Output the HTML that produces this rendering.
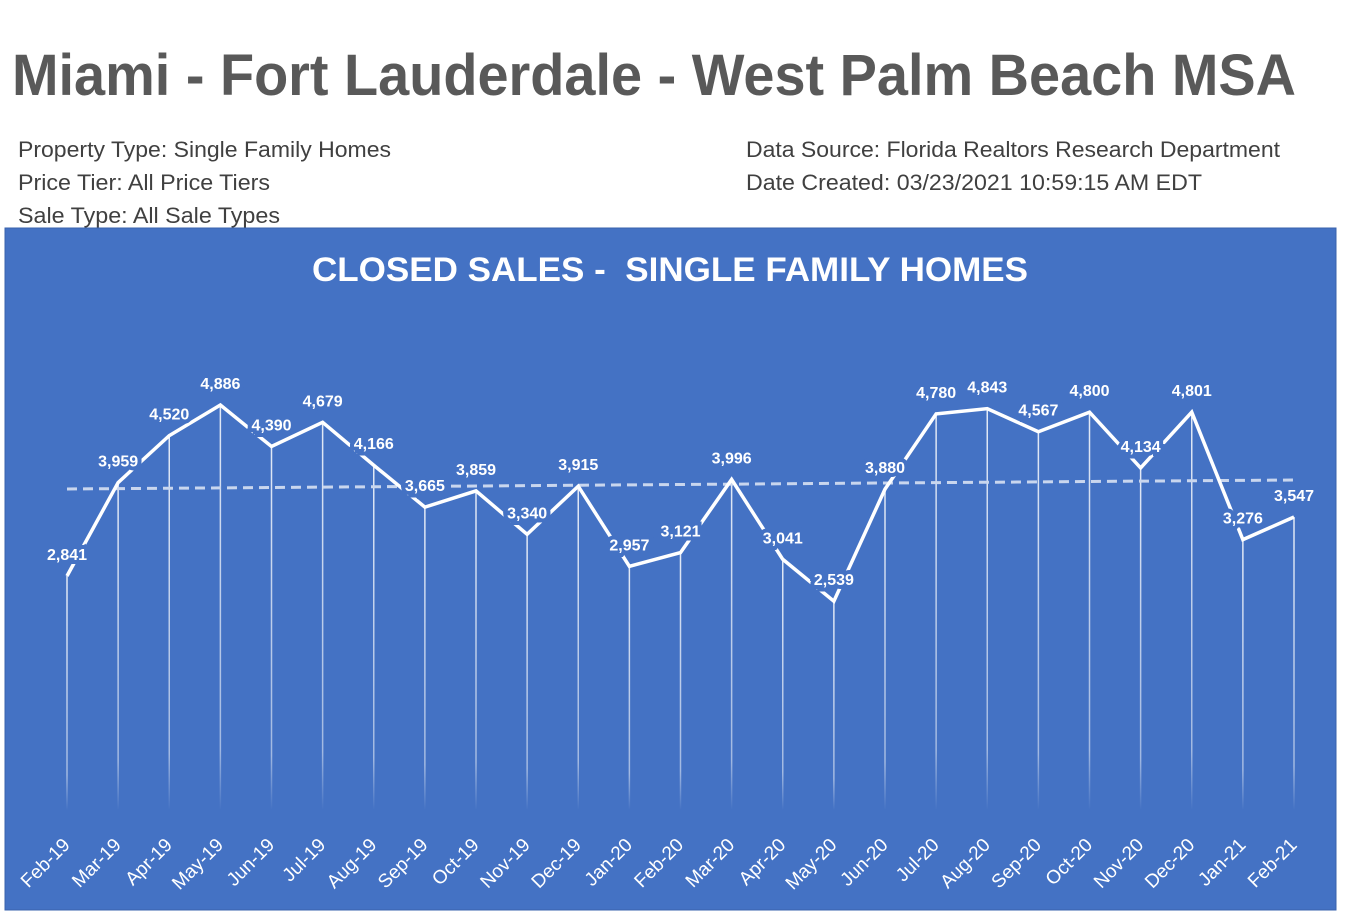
<!DOCTYPE html>
<html><head><meta charset="utf-8"><style>body{margin:0;background:#fff}svg{display:block}</style></head><body>
<svg width="1345" height="918" xmlns="http://www.w3.org/2000/svg" font-family="Liberation Sans, sans-serif">
<defs><linearGradient id="dl" x1="0" y1="0" x2="0" y2="1"><stop offset="0" stop-color="#fff" stop-opacity="0.85"/><stop offset="0.85" stop-color="#fff" stop-opacity="0.5"/><stop offset="1" stop-color="#fff" stop-opacity="0"/></linearGradient></defs>
<rect width="1345" height="918" fill="#fff"/>
<text x="12" y="95" font-size="58" font-weight="bold" fill="#595959" textLength="1284" lengthAdjust="spacingAndGlyphs">Miami - Fort Lauderdale - West Palm Beach MSA</text>
<g font-size="22" fill="#404040">
<text x="18" y="157" textLength="373" lengthAdjust="spacingAndGlyphs">Property Type: Single Family Homes</text>
<text x="18" y="190" textLength="252" lengthAdjust="spacingAndGlyphs">Price Tier: All Price Tiers</text>
<text x="18" y="223" textLength="262" lengthAdjust="spacingAndGlyphs">Sale Type: All Sale Types</text>
<text x="746" y="157" textLength="534" lengthAdjust="spacingAndGlyphs">Data Source: Florida Realtors Research Department</text>
<text x="746" y="190" textLength="456" lengthAdjust="spacingAndGlyphs">Date Created: 03/23/2021 10:59:15 AM EDT</text>
</g>
<rect x="5" y="228" width="1331" height="682" fill="#4472C4" stroke="#3A63AD" stroke-width="1"/>
<text x="312" y="281" font-size="34" font-weight="bold" fill="#fff" textLength="716" lengthAdjust="spacingAndGlyphs" xml:space="preserve">CLOSED SALES -  SINGLE FAMILY HOMES</text>
<g id="chart"></g>
</svg>
<script>
const v=[2841,3959,4520,4886,4390,4679,4166,3665,3859,3340,3915,2957,3121,3996,3041,2539,3880,4780,4843,4567,4800,4134,4801,3276,3547];
const m=["Feb-19","Mar-19","Apr-19","May-19","Jun-19","Jul-19","Aug-19","Sep-19","Oct-19","Nov-19","Dec-19","Jan-20","Feb-20","Mar-20","Apr-20","May-20","Jun-20","Jul-20","Aug-20","Sep-20","Oct-20","Nov-20","Dec-20","Jan-21","Feb-21"];
const X=i=>67+i*51.125, Y=val=>576-(val-2841)*0.0836;
let s='';
v.forEach((val,i)=>{s+=`<rect x="${X(i)-0.75}" y="${Y(val)}" width="1.5" height="${810-Y(val)}" fill="url(#dl)"/>`;});
s+=`<line x1="67" y1="489" x2="1294" y2="480" stroke="#C9D6EE" stroke-width="3" stroke-dasharray="10,6"/>`;
s+=`<polyline fill="none" stroke="#fff" stroke-width="3.5" stroke-linejoin="miter" points="${v.map((val,i)=>X(i)+','+Y(val)).join(' ')}"/>`;
v.forEach((val,i)=>{s+=`<text x="${X(i)}" y="${Y(val)-16}" text-anchor="middle" font-size="16" font-weight="bold" fill="#fff" stroke="#4472C4" stroke-width="8" paint-order="stroke">${val.toLocaleString('en-US')}</text>`;});
m.forEach((t,i)=>{const x=X(i)+4,y=846;s+=`<text x="${x}" y="${y}" transform="rotate(-45 ${x} ${y})" text-anchor="end" font-size="19" fill="#fff">${t}</text>`;});
document.getElementById('chart').innerHTML=s;
</script>
</body></html>
